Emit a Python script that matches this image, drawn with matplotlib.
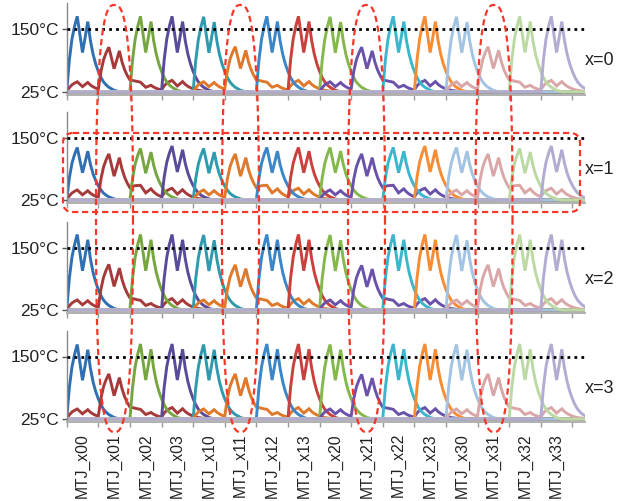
import numpy as np
import matplotlib
matplotlib.use("Agg")
import matplotlib.pyplot as plt
from matplotlib.patches import FancyBboxPatch

plt.rcParams['font.family'] = ['Liberation Sans', 'DejaVu Sans']

# ---------------- data ----------------
MTJ_NAMES = ['MTJ_x00', 'MTJ_x01', 'MTJ_x02', 'MTJ_x03',
             'MTJ_x10', 'MTJ_x11', 'MTJ_x12', 'MTJ_x13',
             'MTJ_x20', 'MTJ_x21', 'MTJ_x22', 'MTJ_x23',
             'MTJ_x30', 'MTJ_x31', 'MTJ_x32', 'MTJ_x33']
COLORS = ['#2f6fb2', '#a63a3a', '#76a63f', '#5a4a9a',
          '#2e9aae', '#e0782a', '#3a86c8', '#c9403d',
          '#85b84c', '#6a52aa', '#3bb6cc', '#f78c33',
          '#a3c3e2', '#d9a7a7', '#bcd9a4', '#b2acd2']
ROW_LABELS = ['x=0', 'x=1', 'x=2', 'x=3']

# normalised temperature response of one heating window (12 samples / window)
PULSE = [0.0, 0.42, 0.70, 0.87, 1.0, 0.76, 0.52, 0.72, 0.93, 0.68, 0.50, 0.37,
         0.27, 0.19, 0.13, 0.09, 0.06, 0.04, 0.02, 0.01, 0.0]
SAMPLES_PER_WINDOW = 12

# peak temperature (deg C) of each MTJ in its own heating window, per row
PEAK_X0 = [176, 113, 176, 176, 175, 114, 176, 176, 175, 113, 176, 176, 175, 114, 176, 176]
PEAK_X1 = [130, 116, 128, 133, 128, 116, 130, 130, 130, 116, 130, 133, 130, 116, 128, 133]
PEAK_X2 = [176, 115, 176, 176, 175, 114, 176, 176, 175, 113, 176, 176, 175, 114, 176, 176]
PEAK_X3 = [174, 114, 175, 175, 174, 114, 175, 175, 174, 113, 175, 175, 174, 114, 175, 175]
PEAKS = [PEAK_X0, PEAK_X1, PEAK_X2, PEAK_X3]

# cross-heating rise (deg C) of the x?1 cells in the neighbouring windows
# (window before, window after, second window after), per row
BUMP_X0 = [20, 14, 22]
BUMP_X1 = [20, 24, 22]
BUMP_X2 = [20, 14, 22]
BUMP_X3 = [20, 14, 22]
BUMPS = [BUMP_X0, BUMP_X1, BUMP_X2, BUMP_X3]
VICTIMS = ['MTJ_x01', 'MTJ_x11', 'MTJ_x21', 'MTJ_x31']
AMBIENT = 25

# ---------------- figure ----------------
W, H = 622, 501
fig = plt.figure(figsize=(W / 100, H / 100), dpi=100)

n_win = len(MTJ_NAMES)
n_pts = n_win * SAMPLES_PER_WINDOW + 6
t = np.arange(n_pts) / SAMPLES_PER_WINDOW
pulse = np.array(PULSE)

left, width, height = 66.7 / W, 518.3 / W, 91.5 / H
bottoms_px = [94.8, 203.0, 313.0, 422.0]

for r in range(4):
    ax = fig.add_axes([left, 1 - bottoms_px[r] / H, width, height])
    peaks = PEAKS[r]
    bumps = BUMPS[r]
    for i, name in enumerate(MTJ_NAMES):
        rise = np.zeros(n_pts)
        contrib = [(i, peaks[i] - AMBIENT)]
        if name in VICTIMS:
            contrib += [(i - 1, bumps[0]), (i + 1, bumps[1]), (i + 2, bumps[2])]
        for w, amp in contrib:
            if w < 0 or w >= n_win:
                continue
            s = w * SAMPLES_PER_WINDOW
            e = min(s + len(pulse), n_pts)
            rise[s:e] += amp * pulse[:e - s]
        ax.plot(t, AMBIENT + rise, color=COLORS[i], lw=2.1,
                solid_joinstyle='miter', zorder=2)
    ax.axhline(150, color='black', lw=2.0, ls=(0, (1, 1.5)), zorder=4)

    ax.set_xlim(0, 16.4)
    ax.set_ylim(19, 202)
    for sp in ['top', 'right']:
        ax.spines[sp].set_visible(False)
    ax.spines['left'].set_color('#8a8a8a')
    ax.spines['bottom'].set_color('#b0b0b0')
    ax.spines['left'].set_linewidth(1.0)
    ax.spines['bottom'].set_linewidth(1.4)
    ax.set_yticks([AMBIENT, 150])
    ax.set_yticklabels(['25°C', '150°C'], fontsize=12.5, color='#222222')
    ax.tick_params(axis='y', length=3.5, width=1.0, color='#555555', pad=2)
    ax.set_xticks(np.arange(n_win + 1), minor=True)
    ax.set_xticks(np.arange(n_win) + 0.5)
    ax.tick_params(axis='x', which='minor', length=3.5, width=1.0, color='#999999')
    ax.tick_params(axis='x', which='major', length=0, pad=8)
    if r == 3:
        ax.set_xticklabels(MTJ_NAMES, rotation=90, fontsize=11.3,
                           color='#222222', va='top')
    else:
        ax.set_xticklabels([])
    ax.patch.set_alpha(0)
    ax.text(1.0, 0.37, ROW_LABELS[r], transform=ax.transAxes,
            fontsize=13, color='#222222', ha='left', va='center')

# ---------------- dashed annotations (pixel coordinates overlay) ----------------
ov = fig.add_axes([0, 0, 1, 1], zorder=10)
ov.set_xlim(0, W)
ov.set_ylim(H, 0)
ov.axis('off')
ov.patch.set_alpha(0)
red = '#f5372a'
th = np.linspace(0, 2 * np.pi, 400)
nexp = 2.7
for cx in [114.5, 240.5, 366.5, 494.0]:
    a, b, cy = 18.5, 213.5, 218.5
    xs = cx + a * np.sign(np.cos(th)) * np.abs(np.cos(th)) ** (2 / nexp)
    ys = cy + b * np.sign(np.sin(th)) * np.abs(np.sin(th)) ** (2 / nexp)
    ov.plot(xs, ys, color=red, lw=1.6, ls=(0, (2.8, 1.7)))
box = FancyBboxPatch((63, 133), 517, 79, boxstyle='round,pad=0,rounding_size=10',
                     fill=False, edgecolor=red, lw=1.6, ls=(0, (2.8, 1.7)))
ov.add_patch(box)

fig.savefig('out.png', dpi=100)
